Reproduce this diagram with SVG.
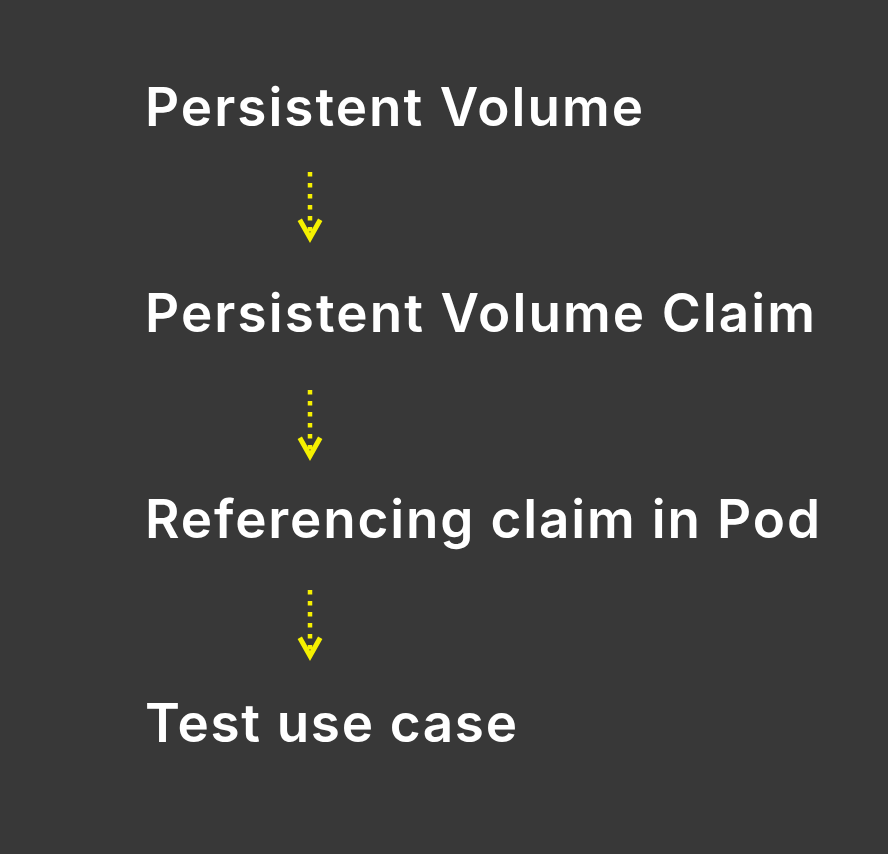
<svg xmlns="http://www.w3.org/2000/svg" width="888" height="854" viewBox="0 0 888 854">
<defs>
<style>
.t{font-family:Inter,"Open Sans","Liberation Sans",sans-serif;font-size:53px;font-weight:600;fill:#ffffff;}
.c{stroke:#f5f000;stroke-width:4.5;fill:none;stroke-dasharray:4.5 6.5;}
.h{stroke:#f5f000;stroke-width:5;fill:none;stroke-linecap:square;stroke-linejoin:miter;}
</style>
</defs>
<rect width="888" height="854" fill="#383838"/>
<g id="pv"><text class="t" x="145" y="126" textLength="498" lengthAdjust="spacing">Persistent Volume</text></g>
<g id="pvc"><text class="t" x="145" y="332" textLength="670" lengthAdjust="spacing">Persistent Volume Claim</text></g>
<g id="pod"><text class="t" x="145" y="538" textLength="675" lengthAdjust="spacing">Referencing claim in Pod</text></g>
<g id="test"><text class="t" x="145" y="742" textLength="372" lengthAdjust="spacing">Test use case</text></g>
<g id="connectors">
<line class="c" x1="310" y1="172" x2="310" y2="236"/>
<polyline class="h" points="301,222 310,238 319,222"/>
<line class="c" x1="310" y1="390" x2="310" y2="454"/>
<polyline class="h" points="301,440 310,456 319,440"/>
<line class="c" x1="310" y1="590" x2="310" y2="654"/>
<polyline class="h" points="301,640 310,656 319,640"/>
</g>
</svg>
